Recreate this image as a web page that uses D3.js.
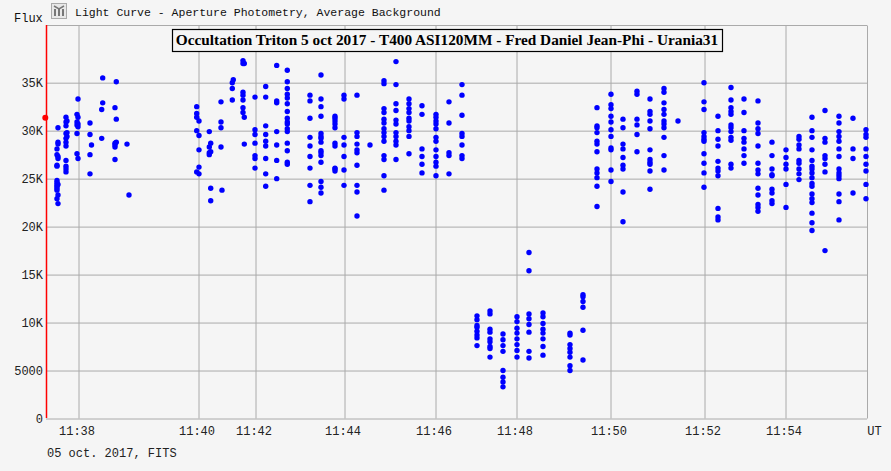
<!DOCTYPE html>
<html><head><meta charset="utf-8">
<script src="https://cdn.jsdelivr.net/npm/d3@7/dist/d3.min.js"></script>
<style>html,body{margin:0;padding:0;background:#f5f5f5;overflow:hidden}</style>
</head><body><svg id="c" width="891" height="471"></svg>
<script>
const headerText = "Light Curve - Aperture Photometry, Average Background";
const titleText = "Occultation Triton 5 oct 2017 - T400 ASI120MM - Fred Daniel Jean-Phi - Urania31";
const footerText = "05 oct. 2017, FITS";
const yLabel = "Flux";
const fluxTicks = [0,5000,10000,15000,20000,25000,30000,35000];
const frameTicks = [32.5,152.5,209.5,298.5,389.5,470.5,564.5,658.5,739.5,821];
const frameTickLabels = ["11:38","11:40","11:42","11:44","11:46","11:48","11:50","11:52","11:54","UT"];
const markerFlux = 31.35;
const frames = [11,12,20,21,31,32,44,45.5,55.7,56.7,69,70.3,81,83,150.7,153,163.3,164.7,175,176,186.3,187.3,197,198.3,209,219.7,230.7,241.3,
 264,275,289,298,311,324,338,350,363,376,390,403,416,
 431,444,457,471,483,497,524,537,
 551,565,577,591,604,618,632,658,672,685,698,712,726,740,753,766,779,793,807,820];
const fluxes = [
 [24.8,24.6,24.4,24.2,24.0,23.8,22.9,26.3,26.4,27.5,28.1],
 [30.3,28.8,28.6,27.3,27.1,24.4,23.3,22.4],
 [31.4,30.9,30.5,29.7,29.2,28.8,28.4,26.9,26.3,26.0,25.7],
 [31.0,29.8,29.4],
 [31.7,30.9,30.6,29.7,27.6],
 [33.3,31.4,30.7,30.4,27.1],
 [30.8,29.6,27.5,25.5],
 [28.5],
 [32.2,29.2],
 [35.5,32.9],
 [32.4,28.7,28.5,28.3,27.0],
 [35.1,31.2,28.8],
 [28.6],
 [23.3],
 [32.5,31.8,31.4,30.0,25.7],
 [31.0,29.5,28.0,26.2,25.5],
 [29.9,28.3,27.5,27.7],
 [28.7,27.8,24.0,22.7],
 [33.0,30.9,30.3,28.3],
 [23.8],
 [35.0,34.4,33.2],
 [35.3],
 [34.0,33.7,33.2,32.4,31.9,37.3,37.0],
 [37.0,31.4,28.6],
 [33.5,30.1,29.6,28.7,27.4,27.1,26.1],
 [34.6,33.5,30.5,29.6,28.9,28.4,27.1,25.5,24.2],
 [36.8,33.1,32.9,29.9,28.5,26.9,25.0],
 [36.3,35.1,34.4,33.8,33.4,32.8,32.0,31.3,30.9,30.7,30.2,29.9,28.7,27.9,26.7,26.5],
 [33.7,33.1,31.3,29.3,28.4,27.3,26.1,24.3,22.6],
 [35.8,33.3,32.5,31.5,29.7,29.4,29.2,28.8,27.9,27.7,27.4,26.7,24.7,24.1,23.5],
 [31.5,31.3,31,30.7,30.3,28.7,28.4,26.1,26,25.8],
 [33.7,33.3,29.3,28.5,27.3,25.9,24.3],
 [33.7,29.8,29.4,28.6,28,27.7,26.4,24.3,23.6,21.1],
 [28.5],
 [35.2,34.9,32.3,31.9,31.2,30.8,30.2,29.8,29.4,28.9,27.4,27,25.3,23.8],
 [37.2,34.8,32.8,32.1,31.1,30.7,29.8,29.4,28.9,28.5,27],
 [33.3,32.8,32.3,31.9,31.3,31,30.4,30,29.4,27.6],
 [32.6,31.7,28.1,27.3,26.5,25.6],
 [31.7,31.4,31,30.7,30.2,29.3,28.9,28,27.3,26.7,26.3,25.3],
 [33,30.8,27.7,27.4,25.5],
 [34.8,33.7,31.6,29.7,29.4,28.5,27.4,27.1],
 [10.7,10.3,9.7,9.5,9.1,8.7,8.4,7.6],
 [11.2,10.9,9.3,9,8.3,8,7.5,7.3,6.4],
 [8.8,8.2,7.6,7,5,4.3,3.8,3.3],
 [10.6,10.1,9.4,8.9,8.3,7.7,7.1,6.4],
 [17.3,15.4,10.9,10.4,9.8,9,7,6.3],
 [11,10.6,9.9,9.3,8.9,8.3,7.5,6.6],
 [8.9,8.7,7.7,7.3,6.9,6.4,5.5,5],
 [12.9,12.7,12.2,11.6,9.2,6.1],
 [32.4,30.5,30.3,29.8,28.9,28.6,27.8,26,25.6,25.1,24.2,22.1],
 [33.8,32.7,32.3,31.5,30.9,30.1,29.4,28.2,28,25.9,24.7],
 [31.2,30.3,28.6,28.1,27.2,26.4,26,23.6,20.5],
 [34.1,33.8,31.2,30.6,29.6,27.8],
 [33.3,32,31.7,31,30.2,28,27,26.7,26.5,25.8,23.9],
 [34.4,34,32.9,32.2,31.7,31,30.7,30.3,29.3,27.4,25.9],
 [31],
 [35,33,32.2,29.8,29.4,29.1,28.9,27.6,26.6,25.6,24.1],
 [31.5,30,29.1,28.4,26.8,26.1,25.8,25.3,21.9,21,20.7],
 [34.5,33.2,32.4,32,31.7,30.6,30.3,29.9,29.3,29,26.5,26.1],
 [33.3,31.9,30,29.2,28.8,28.1,27.4,26.6],
 [33.1,30.8,30.2,29.7,28.4,26.6,25.9,25.5,24,23.3,22.3,22,21.6],
 [28.8,27.4,26,25.4,25.3,23.9,23.5,22.7,22.4],
 [28,27.2,26.5,26,24.4,22],
 [29.4,29.1,28.5,28.1,26.9,26.6,26,25.5,24.9],
 [31.4,30,29.3,28,26.9,26.3,26,25.6,25.1,24.5,24.2,23.4,22.9,22.5,21.4,20.4,19.6],
 [32.1,29.2,28.8,27.4,27.1,26.5,25.7,17.5],
 [31.5,30.8,29.9,29.4,28.9,28.1,27.3,26,25.6,25.3,25,23.4,22.6,20.7],
 [31.3,28.1,27.1,23.5],
 [30.1,29.6,29.3,28.1,27.3,26.5,25.8,24.4,22.9]
];

const svg = d3.select("#c");
const x = d3.scaleLinear().domain([0,821]).range([46,867]);
const y = d3.scaleLinear().domain([0,40960]).range([418.5,25.5]);
const mono = "'Liberation Mono','Courier New',monospace";

svg.append("rect").attr("width",891).attr("height",471).attr("fill","#f5f5f5");

const gy = svg.append("g").attr("transform","translate(46,0)")
  .call(d3.axisLeft(y).tickValues(fluxTicks).tickSize(-821).tickPadding(3)
    .tickFormat(v => v>=10000 ? (v/1000)+"K" : String(v)));
gy.select(".domain").remove();
gy.selectAll("line").attr("stroke","#aaa").attr("stroke-width",1);
gy.selectAll("text").attr("font-family",mono).attr("font-size",12).attr("fill","#222");

const gx = svg.append("g").attr("transform","translate(0,418.5)")
  .call(d3.axisBottom(x).tickValues(frameTicks).tickSize(-393).tickPadding(3)
    .tickFormat((d,i)=>frameTickLabels[i]));
gx.select(".domain").remove();
gx.selectAll("line").attr("stroke","#aaa").attr("stroke-width",1);
gx.selectAll("text").attr("font-family",mono).attr("font-size",12).attr("fill","#222").attr("dx",-2).attr("dy","1.1em");
gx.selectAll(".tick").filter((d,i)=>i===frameTicks.length-1).select("text").attr("dx",7);

// top border
svg.append("line").attr("x1",46).attr("x2",867).attr("y1",25.5).attr("y2",25.5)
  .attr("stroke","#aaa").attr("stroke-width",1);

// red left axis and marker
svg.append("line").attr("x1",46.5).attr("x2",46.5).attr("y1",25).attr("y2",418)
  .attr("stroke","#ff0000").attr("stroke-width",1.5);

const pts = frames.flatMap((f,i)=>fluxes[i].map(v=>({f,v:v*1000})));
svg.append("g").selectAll("circle").data(pts).join("circle")
  .attr("cx",d=>x(d.f)).attr("cy",d=>y(d.v)).attr("r",2.7).attr("fill","#0000ff");

svg.append("circle").attr("cx",45.3).attr("cy",y(markerFlux*1000)).attr("r",3).attr("fill","#ff0000");

// header icon
const icon = svg.append("g").attr("transform","translate(51,3)");
icon.append("rect").attr("x",0.5).attr("y",0.5).attr("width",15).attr("height",15).attr("fill","#e8e8e8").attr("stroke","#aaa");
const iconBars=[4,8,12];
icon.selectAll("line.b").data(iconBars).join("line").attr("x1",d=>d).attr("x2",d=>d)
  .attr("y1",6).attr("y2",13).attr("stroke","#777").attr("stroke-width",2);
icon.append("path").attr("d","M3 3 L8 6 L13 3").attr("fill","none").attr("stroke","#777").attr("stroke-width",1.5);
svg.append("text").attr("x",75).attr("y",16).attr("font-family",mono).attr("font-size",11.5).attr("fill","#111").text(headerText);
svg.append("text").attr("x",14).attr("y",22).attr("font-family",mono).attr("font-size",12).attr("fill","#111").text(yLabel);
svg.append("text").attr("x",47).attr("y",457).attr("font-family",mono).attr("font-size",12).attr("fill","#222").text(footerText);

// title box
svg.append("rect").attr("x",172.5).attr("y",29.5).attr("width",550).attr("height",22)
  .attr("fill","#f5f5f5").attr("stroke","#000").attr("stroke-width",1.2);
svg.append("text").attr("x",447).attr("y",45).attr("text-anchor","middle")
  .attr("font-family","'Liberation Serif','Times New Roman',serif").attr("font-weight","bold").attr("font-size",15.3).attr("fill","#000").text(titleText);
</script></body></html>
